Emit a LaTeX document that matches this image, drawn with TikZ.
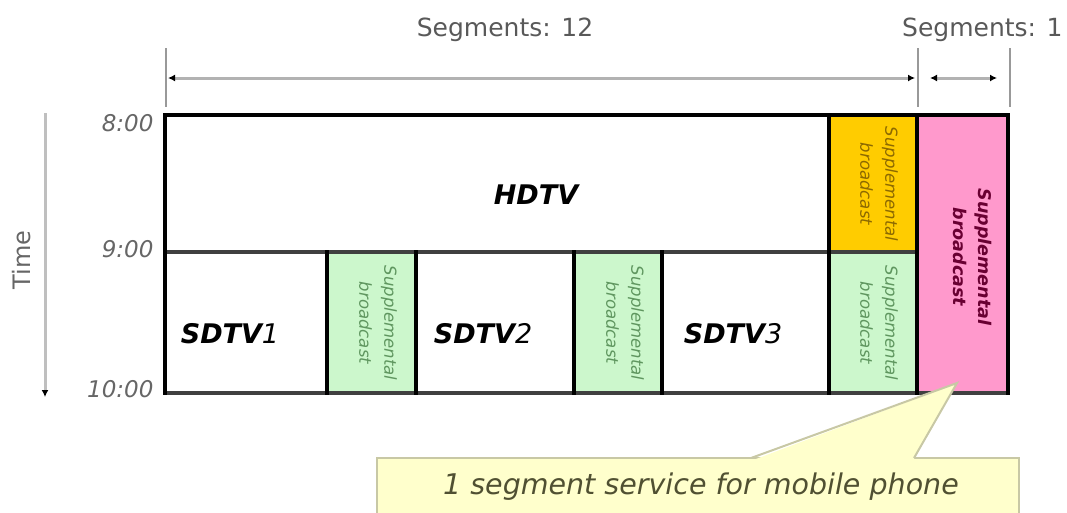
\documentclass[tikz,border=0pt]{standalone}
\usepackage{fontspec}
\setmainfont{DejaVu Sans}
\usetikzlibrary{arrows.meta}

\definecolor{suppgreen}{RGB}{204,247,204}
\definecolor{supporange}{RGB}{255,204,0}
\definecolor{supppink}{RGB}{255,153,204}
\definecolor{greentext}{RGB}{95,150,95}
\definecolor{orangetext}{RGB}{140,105,0}
\definecolor{pinktext}{RGB}{105,0,50}
\definecolor{calloutfill}{RGB}{255,255,204}
\definecolor{calloutline}{RGB}{200,200,165}
\definecolor{callouttext}{RGB}{80,80,50}

\tikzset{
  gridline/.style={line width=3.5pt, line cap=rect},
  dimline/.style={draw=black!30, line width=3pt,
    {Latex[black,length=7pt,width=7pt]}-{Latex[black,length=7pt,width=7pt]}},
  dimtick/.style={draw=black!40, line width=1.5pt},
  seglabel/.style={text=black!65, font=\fontsize{25}{30}\selectfont},
  timelabel/.style={anchor=east, text=black!60, font=\fontsize{23}{28}\selectfont\itshape},
  service/.style={font=\fontsize{27}{32}\selectfont\itshape},
  supptext/.style={rotate=-90, align=center, font=\fontsize{16.5}{25}\selectfont\itshape}
}

\begin{document}
\begin{tikzpicture}[x=1pt, y=-1pt]
  \useasboundingbox (0,0) rectangle (1067,512);

  % cells
  \fill[supporange] (829,115) rectangle (917,252);
  \fill[supppink] (917,115) rectangle (1008,393);
  \foreach \x/\y in {327/416, 574/662, 829/917}
    \fill[suppgreen] (\x,252) rectangle (\y,393);

  % grid
  \draw[gridline] (165,115) -- (1008,115);
  \draw[gridline, black!75] (165,252) -- (917,252);
  \draw[gridline, black!75] (165,393) -- (1008,393);
  \draw[gridline] (165,115) -- (165,393);
  \draw[gridline] (1008,115) -- (1008,393);
  \draw[gridline] (829,115) -- (829,393);
  \draw[gridline] (917,115) -- (917,393);
  \foreach \x in {327, 416, 574, 662}
    \draw[gridline] (\x,252) -- (\x,393);

  % segments
  \draw[dimtick] (166,48) -- (166,107);
  \draw[dimtick] (918,48) -- (918,107);
  \draw[dimtick] (1010,48) -- (1010,107);
  \draw[dimline] (168,78) -- (915,78);
  \draw[dimline] (930,78) -- (997,78);
  \node[seglabel] (segs12) at (505,30) {Segments: 12};
  \node[seglabel, anchor=west, inner sep=0pt] (segs1) at (902,30) {Segments: 1};

  % time axis
  \draw[draw=black!25, line width=3pt, -{Latex[black,length=7pt,width=7pt]}] (45,113) -- (45,397);
  \node[rotate=90, text=black!60, font=\fontsize{24}{28}\selectfont] (time) at (22,260) {Time};
  \node[timelabel] (t8) at (157,123) {8:00};
  \node[timelabel] (t9) at (157,249) {9:00};
  \node[timelabel] (t10) at (157,389) {10:00};

  % services
  \node[service] (hdtv) at (536,195) {\bfseries HDTV};
  \node[service] (sdtv1) at (230,334) {{\bfseries SDTV}1};
  \node[service] (sdtv2) at (483,334) {{\bfseries SDTV}2};
  \node[service] (sdtv3) at (733,334) {{\bfseries SDTV}3};

  \foreach \x/\n in {378/suppa, 625/suppb, 879/suppc}
    \node[supptext, text=greentext] (\n) at (\x,323) {Supplemental\\broadcast};
  \node[supptext, text=orangetext] (suppd) at (879,184) {Supplemental\\broadcast};
  \node[supptext, text=pinktext, font=\fontsize{17.5}{25}\selectfont\bfseries\itshape]
    (suppe) at (973,257) {Supplemental\\broadcast};

  % callout
  \filldraw[fill=calloutfill, draw=calloutline, line width=2.5pt] (377,458) rectangle (1019,530);
  \fill[calloutfill] (752,460.5) -- (957,383) -- (913,460.5) -- cycle;
  \draw[calloutline, line width=2pt] (751,458) -- (957,383) -- (914,458);
  \node[text=callouttext, font=\fontsize{28.5}{32}\selectfont\itshape] (mobile) at (701,487)
    {1 segment service for mobile phone};
\end{tikzpicture}
\end{document}
